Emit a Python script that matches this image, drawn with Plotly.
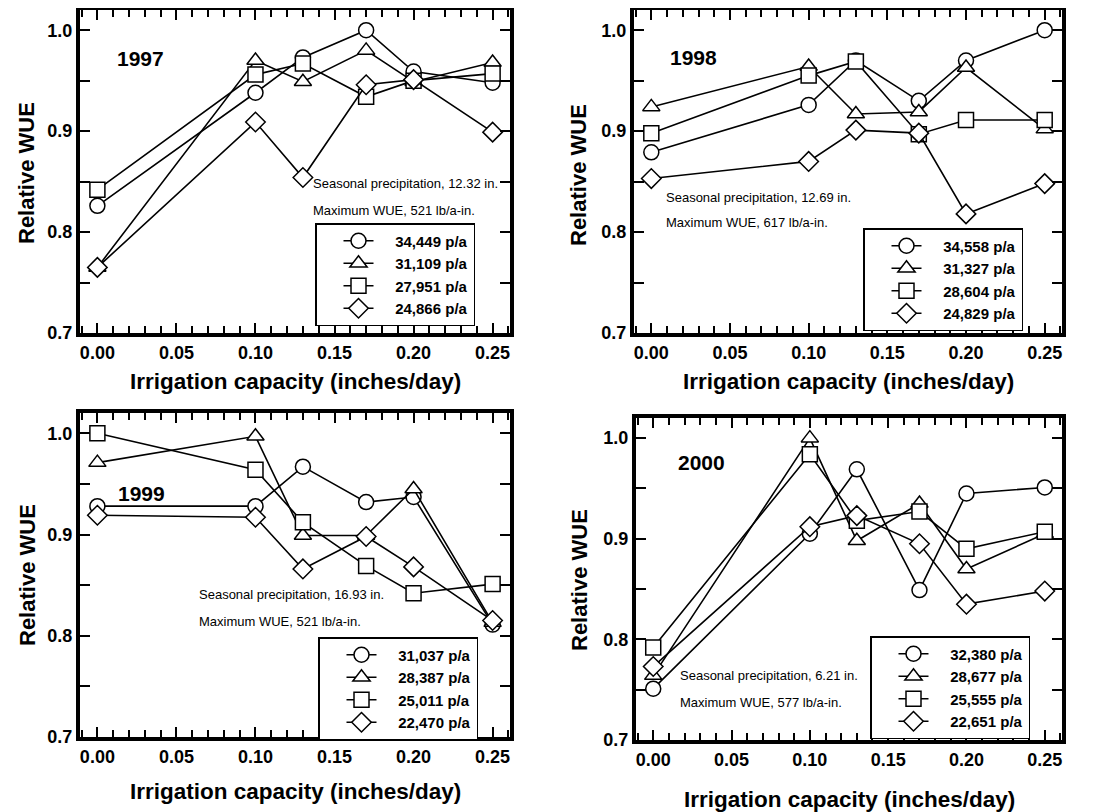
import plotly.graph_objects as go

x_cap = [0.00, 0.10, 0.13, 0.17, 0.20, 0.25]

years = ["1997", "1998", "1999", "2000"]

pop_labels = {
    "1997": ["34,449 p/a", "31,109 p/a", "27,951 p/a", "24,866 p/a"],
    "1998": ["34,558 p/a", "31,327 p/a", "28,604 p/a", "24,829 p/a"],
    "1999": ["31,037 p/a", "28,387 p/a", "25,011 p/a", "22,470 p/a"],
    "2000": ["32,380 p/a", "28,677 p/a", "25,555 p/a", "22,651 p/a"],
}

wue_1997 = [
    [0.826, 0.938, 0.973, 1.000, 0.959, 0.948],
    [0.765, 0.970, 0.949, 0.980, 0.949, 0.968],
    [0.842, 0.956, 0.967, 0.934, 0.950, 0.957],
    [0.765, 0.909, 0.854, 0.946, 0.951, 0.899],
]
wue_1998 = [
    [0.879, 0.926, 0.970, 0.930, 0.970, 1.000],
    [0.924, 0.964, 0.917, 0.919, 0.963, 0.902],
    [0.898, 0.955, 0.969, 0.897, 0.911, 0.911],
    [0.853, 0.870, 0.901, 0.898, 0.818, 0.848],
]
wue_1999 = [
    [0.928, 0.928, 0.967, 0.932, 0.937, 0.811],
    [0.971, 0.997, 0.899, 0.899, 0.945, 0.813],
    [1.000, 0.964, 0.912, 0.869, 0.842, 0.851],
    [0.919, 0.917, 0.866, 0.898, 0.868, 0.815],
]
wue_2000 = [
    [0.751, 0.905, 0.969, 0.849, 0.945, 0.951],
    [0.764, 1.000, 0.898, 0.935, 0.870, 0.905],
    [0.792, 0.984, 0.918, 0.927, 0.890, 0.907],
    [0.773, 0.912, 0.923, 0.895, 0.835, 0.848],
]
wue = {"1997": wue_1997, "1998": wue_1998, "1999": wue_1999, "2000": wue_2000}

precip = {"1997": "12.32", "1998": "12.69", "1999": "16.93", "2000": "6.21"}
max_wue = {"1997": "521", "1998": "617", "1999": "521", "2000": "577"}

symbols = ["circle", "triangle-up", "square", "diamond"]

OFF = 8  # default body margin of the html page
W, H = 1106 - OFF, 812 - OFF
boxes = [(80, 510, 10, 333), (634, 1062, 10, 333), (80, 510, 413, 737), (636, 1062, 418, 740)]
year_pos = [(0.027, 0.972), (0.027, 0.973), (0.028, 0.940), (0.031, 0.976)]
note_pos = [(0.135, 0.848, 0.821), (0.008, 0.834, 0.809), (0.063, 0.841, 0.814), (0.016, 0.764, 0.737)]
leg_pos = [(315, 223), (863, 228), (318, 637), (870, 636)]
xtitle_y = [381, 381, 791, 799]
ytitle_xy = [(27, 173), (578, 175), (27, 575), (579, 580)]

X_RANGE = [-0.011, 0.261]
Y_RANGE = [0.7, 1.02]

FONT = "Liberation Sans, Arial, sans-serif"
NB = "\u00a0"


def px(xp):
    return (xp - OFF) / W


def py(yp):
    return 1 - (yp - OFF) / H


def ax_key(letter, num):
    return f"{letter}axis" if num == 1 else f"{letter}axis{num}"


def ax_id(letter, num):
    return letter if num == 1 else f"{letter}{num}"


fig = go.Figure()
annotations = []
layout = {}
for i, yr in enumerate(years):
    n = i + 1
    xa, ya = ax_id("x", n), ax_id("y", n)
    lg = "legend" if n == 1 else f"legend{n}"
    for k in range(4):
        fig.add_trace(go.Scatter(
            x=x_cap, y=wue[yr][k], mode="lines+markers",
            name=NB * 4 + pop_labels[yr][k], xaxis=xa, yaxis=ya, legend=lg,
            line=dict(color="black", width=1.6),
            marker=dict(symbol=symbols[k], size=15, color="white",
                        line=dict(color="black", width=1.5)),
            cliponaxis=False,
        ))
    l, r, t, b = boxes[i]
    layout[ax_key("x", n)] = dict(
        domain=[px(l), px(r)], anchor=ya, range=X_RANGE, automargin=False,
        tickmode="linear", tick0=0, dtick=0.05, tickformat=".2f",
        ticks="inside", ticklen=10, tickwidth=2, tickcolor="black",
        showline=True, linewidth=4, linecolor="black", mirror="ticks",
        showgrid=False, zeroline=False, fixedrange=True,
        minor=dict(dtick=0.01, tick0=0, ticks="inside", ticklen=7, tickwidth=1.5,
                   tickcolor="black", showgrid=False),
        tickfont=dict(family=FONT, size=18, color="black", weight="bold"),
    )
    layout[ax_key("y", n)] = dict(
        domain=[py(b), py(t)], anchor=xa, range=Y_RANGE, automargin=False,
        tickmode="linear", tick0=0.7, dtick=0.1, tickformat=".1f",
        ticks="inside", ticklen=10, tickwidth=2, tickcolor="black",
        showline=True, linewidth=4, linecolor="black", mirror="ticks",
        showgrid=False, zeroline=False, fixedrange=True,
        minor=dict(dtick=0.05, tick0=0.7, ticks="inside", ticklen=10, tickwidth=2,
                   tickcolor="black", showgrid=False),
        tickfont=dict(family=FONT, size=18, color="black", weight="bold"),
    )
    lx, ly = leg_pos[i]
    layout[lg] = dict(
        x=px(lx), y=py(ly), xanchor="left", yanchor="top", xref="paper", yref="paper",
        bgcolor="white", bordercolor="black", borderwidth=1.5,
        font=dict(family=FONT, size=15, color="black", weight="bold"),
        indentation=22, tracegroupgap=0, itemsizing="trace",
    )
    annotations.append(dict(x=px((l + r) / 2), y=py(xtitle_y[i]), xref="paper", yref="paper",
                            text="Irrigation capacity (inches/day)", showarrow=False,
                            xanchor="center", yanchor="middle",
                            font=dict(family=FONT, size=22.5, color="black", weight="bold")))
    tx, ty = ytitle_xy[i]
    annotations.append(dict(x=px(tx), y=py(ty), xref="paper", yref="paper",
                            text="Relative WUE", showarrow=False, textangle=-90,
                            xanchor="center", yanchor="middle",
                            font=dict(family=FONT, size=22, color="black", weight="bold")))
    yx, yy = year_pos[i]
    annotations.append(dict(x=yx, y=yy, xref=xa, yref=ya, text=yr, showarrow=False,
                            xanchor="center", yanchor="middle",
                            font=dict(family=FONT, size=21, color="black", weight="bold")))
    nx, ny1, ny2 = note_pos[i]
    annotations.append(dict(x=nx, y=ny1, xref=xa, yref=ya,
                            text=f"Seasonal precipitation, {precip[yr]} in.",
                            showarrow=False, xanchor="left", yanchor="middle",
                            font=dict(family=FONT, size=13, color="black")))
    annotations.append(dict(x=nx, y=ny2, xref=xa, yref=ya,
                            text=f"Maximum WUE, {max_wue[yr]} lb/a-in.",
                            showarrow=False, xanchor="left", yanchor="middle",
                            font=dict(family=FONT, size=13, color="black")))

fig.update_layout(
    template="none",
    width=W, height=H, margin=dict(l=0, r=0, t=0, b=0, pad=0),
    paper_bgcolor="white", plot_bgcolor="white",
    annotations=annotations, **layout,
)
fig.write_html("out.html")
